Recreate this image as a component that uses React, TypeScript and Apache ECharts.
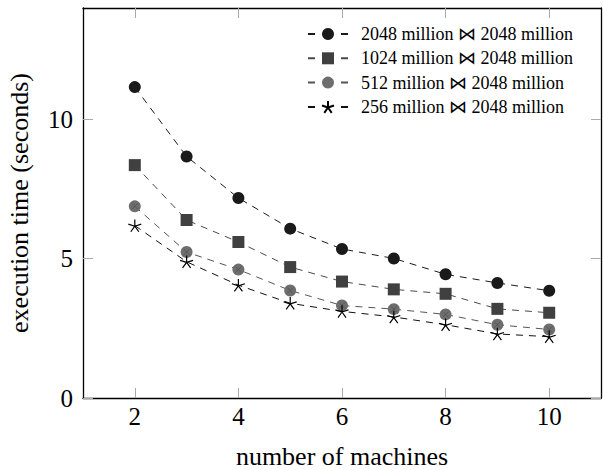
import React, { useEffect, useRef } from "react";
import * as echarts from "echarts";

const machines = [2, 3, 4, 5, 6, 7, 8, 9, 10];
const s2048 = [11.16, 8.67, 7.18, 6.08, 5.35, 5.01, 4.44, 4.13, 3.85];
const s1024 = [8.36, 6.39, 5.6, 4.7, 4.18, 3.9, 3.74, 3.2, 3.06];
const s512 = [6.88, 5.24, 4.61, 3.86, 3.32, 3.19, 3.0, 2.63, 2.46];
const s256 = [6.19, 4.89, 4.05, 3.4, 3.11, 2.91, 2.63, 2.3, 2.2];
const seriesNames = [
  "2048 million ⋈ 2048 million",
  "1024 million ⋈ 2048 million",
  "512 million ⋈ 2048 million",
  "256 million ⋈ 2048 million",
];
const xTicks = [2, 4, 6, 8, 10];
const yTicks = [0, 5, 10];

const FONT = "'Liberation Serif', 'DejaVu Serif', serif";
const STAR =
  "path://M0,-1L0,0M0.951,-0.309L0,0M0.588,0.809L0,0M-0.588,0.809L0,0M-0.951,-0.309L0,0";
const CROSS = "path://M-1,-1L1,1M-1,1L1,-1";

const pairs = (ys: number[]) => machines.map((x, i) => [x, ys[i]]);

export default function App() {
  const ref = useRef<HTMLDivElement>(null);
  useEffect(() => {
    if (!ref.current) return;
    const chart = echarts.init(ref.current, undefined, { renderer: "svg" });
    const tickStyle = { show: true, inside: true, length: 10, lineStyle: { color: "#aaaaaa", width: 1 } };
    const axisLine = { show: true, onZero: false, lineStyle: { color: "#000", width: 1.3 } };
    const dash = [7, 6];
    chart.setOption({
      animation: false,
      grid: { left: 83, right: 2, top: 8, bottom: 72, outerBoundsMode: "none" },
      legend: {
        data: seriesNames,
        orient: "vertical",
        left: 302,
        top: 20,
        itemWidth: 40,
        itemHeight: 15,
        itemGap: 6.3,
        lineStyle: { type: [7, 26] },
        textStyle: { fontFamily: FONT, fontSize: 18, lineHeight: 15, color: "#000", padding: [0, 0, 0, 8] },
      },
      xAxis: [
        {
          type: "value",
          min: 1,
          max: 11,
          position: "bottom",
          name: "number of machines",
          nameLocation: "middle",
          nameGap: 45,
          nameTextStyle: { fontFamily: FONT, fontSize: 26, color: "#000" },
          axisLine,
          axisTick: { ...tickStyle, customValues: xTicks },
          axisLabel: { customValues: xTicks, margin: 6, fontFamily: FONT, fontSize: 25, color: "#000" },
          splitLine: { show: false },
        },
        {
          type: "value",
          min: 1,
          max: 11,
          position: "top",
          axisLine,
          axisTick: { ...tickStyle, customValues: xTicks },
          axisLabel: { show: false },
          splitLine: { show: false },
        },
      ],
      yAxis: [
        {
          type: "value",
          min: 0,
          max: 14,
          position: "left",
          name: "execution time (seconds)",
          nameLocation: "middle",
          nameGap: 51,
          nameTextStyle: { fontFamily: FONT, fontSize: 26, color: "#000" },
          axisLine,
          axisTick: { ...tickStyle, customValues: yTicks },
          axisLabel: { customValues: yTicks, margin: 10, fontFamily: FONT, fontSize: 25, color: "#000" },
          splitLine: { show: false },
        },
        {
          type: "value",
          min: 0,
          max: 14,
          position: "right",
          axisLine,
          axisTick: { ...tickStyle, customValues: yTicks },
          axisLabel: { show: false },
          splitLine: { show: false },
        },
      ],
      series: [
        {
          name: seriesNames[0],
          type: "line",
          data: pairs(s2048),
          symbol: "circle",
          symbolSize: 12,
          itemStyle: { color: "#1a1a1a" },
          lineStyle: { color: "#1a1a1a", width: 1, type: dash },
          z: 5,
        },
        {
          name: seriesNames[1],
          type: "line",
          data: pairs(s1024),
          symbol: "rect",
          symbolSize: 12,
          itemStyle: { color: "#404040" },
          lineStyle: { color: "#4a4a4a", width: 1, type: dash },
          z: 4,
        },
        {
          name: seriesNames[2],
          type: "line",
          data: pairs(s512),
          symbol: "circle",
          symbolSize: 12,
          itemStyle: { color: "#6e6e6e" },
          lineStyle: { color: "#555555", width: 1, type: dash },
          z: 3,
        },
        {
          name: "cross",
          type: "scatter",
          data: pairs(s512),
          symbol: CROSS,
          symbolSize: 6,
          silent: true,
          itemStyle: { color: "none", borderColor: "#4a4a4a", borderWidth: 0.8 },
          z: 6,
        },
        {
          name: seriesNames[3],
          type: "line",
          data: pairs(s256),
          symbol: STAR,
          symbolSize: 13,
          symbolKeepAspect: true,
          itemStyle: { color: "none", borderColor: "#000", borderWidth: 1.2 },
          lineStyle: { color: "#111111", width: 1, type: dash },
          z: 7,
        },
      ],
    });
    return () => chart.dispose();
  }, []);
  return (
    <div
      ref={ref}
      style={{ position: "fixed", left: 0, top: 0, width: 603, height: 470, background: "#fff" }}
    />
  );
}
